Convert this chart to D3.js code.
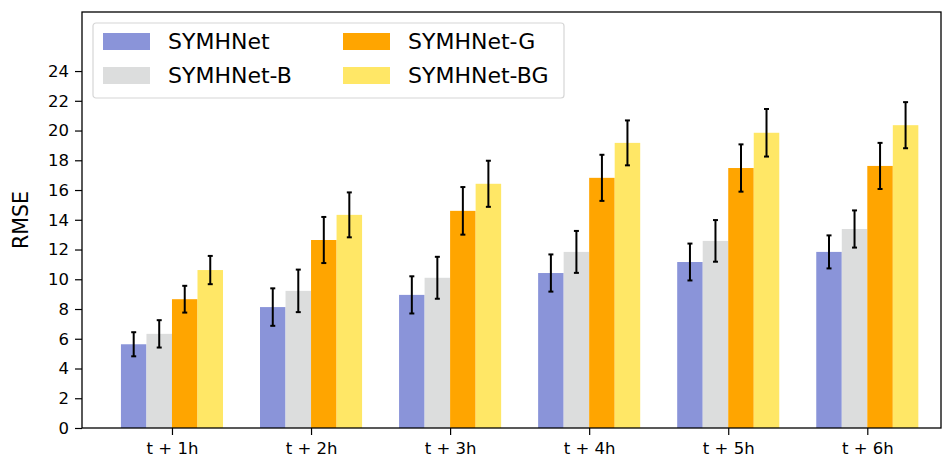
<!DOCTYPE html>
<html>
<head>
<meta charset="utf-8">
<script src="https://cdn.jsdelivr.net/npm/d3@7"></script>
<style>
    body { margin: 0; background: #fff; }
    svg { font-family: "DejaVu Sans", sans-serif; }
</style>
</head>
<body>
<svg id="chart"></svg>
<script>
// Data
const horizons = ['t + 1h', 't + 2h', 't + 3h', 't + 4h', 't + 5h', 't + 6h'];
const models = ['SYMHNet', 'SYMHNet-B', 'SYMHNet-G', 'SYMHNet-BG'];
const colors = ['#8a94d9', '#dcdddd', '#ffa500', '#ffe766'];

const rmse = [
    [5.63, 8.13, 8.95, 10.42, 11.16, 11.84],   // SYMHNet
    [6.33, 9.22, 10.10, 11.84, 12.58, 13.38],  // SYMHNet-B
    [8.66, 12.64, 14.60, 16.82, 17.48, 17.62], // SYMHNet-G
    [10.62, 14.33, 16.42, 19.17, 19.85, 20.36] // SYMHNet-BG
];
const rmseErr = [
    [0.81, 1.26, 1.25, 1.25, 1.24, 1.11],
    [0.92, 1.43, 1.41, 1.41, 1.40, 1.25],
    [0.90, 1.55, 1.60, 1.55, 1.59, 1.55],
    [0.95, 1.51, 1.55, 1.51, 1.60, 1.55]
];
const yTicks = d3.range(0, 25, 2);

// Layout
const config = {
    width: 944,
    height: 460,
    margin: { top: 12, right: 3, bottom: 32, left: 82 },
    barWidth: 0.1835,
    tickFont: 16.5
};

const svg = d3.select('#chart')
    .attr('width', config.width)
    .attr('height', config.height);

const innerW = config.width - config.margin.left - config.margin.right;
const innerH = config.height - config.margin.top - config.margin.bottom;

const g = svg.append('g')
    .attr('transform', `translate(${config.margin.left},${config.margin.top})`);

const x = d3.scaleLinear().domain([-0.647, 5.53]).range([0, innerW]);
const y = d3.scaleLinear().domain([0, 27.97]).range([innerH, 0]);

// Bars
models.forEach((m, mi) => {
    const offset = (mi - 2) * config.barWidth;
    g.append('g').attr('class', 'series')
        .selectAll('rect')
        .data(rmse[mi])
        .enter()
        .append('rect')
        .attr('x', (d, i) => x(i + offset))
        .attr('width', x(config.barWidth) - x(0))
        .attr('y', d => y(d))
        .attr('height', d => y(0) - y(d))
        .attr('fill', colors[mi]);
});

// Error bars
models.forEach((m, mi) => {
    const offset = (mi - 1.5) * config.barWidth;
    const eg = g.append('g').attr('class', 'errors');
    rmse[mi].forEach((v, i) => {
        const cx = x(i + offset);
        const top = y(v + rmseErr[mi][i]);
        const bot = y(v - rmseErr[mi][i]);
        eg.append('line')
            .attr('x1', cx).attr('x2', cx)
            .attr('y1', top).attr('y2', bot)
            .attr('stroke', '#000').attr('stroke-width', 2);
        [top, bot].forEach(cy => {
            eg.append('line')
                .attr('x1', cx - 2.5).attr('x2', cx + 2.5)
                .attr('y1', cy).attr('y2', cy)
                .attr('stroke', '#000').attr('stroke-width', 2);
        });
    });
});

// Axes
const yAxis = g.append('g')
    .call(d3.axisLeft(y).tickValues(yTicks).tickSize(7).tickPadding(6));
const xAxis = g.append('g')
    .attr('transform', `translate(0,${innerH})`)
    .call(d3.axisBottom(x).tickValues(d3.range(horizons.length))
        .tickFormat(i => horizons[i]).tickSize(7).tickPadding(7));

[yAxis, xAxis].forEach(a => {
    a.attr('font-family', '"DejaVu Sans", sans-serif').attr('font-size', config.tickFont);
    a.select('.domain').remove();
    a.selectAll('.tick line').attr('stroke', '#000').attr('stroke-width', 1.2);
    a.selectAll('text').attr('fill', '#000');
});

// Frame
g.append('rect')
    .attr('width', innerW).attr('height', innerH)
    .attr('fill', 'none').attr('stroke', '#000').attr('stroke-width', 1.3);

// Y label
svg.append('text')
    .attr('transform', `translate(28,${config.margin.top + innerH / 2}) rotate(-90)`)
    .attr('text-anchor', 'middle')
    .attr('font-size', 20.5)
    .text('RMSE');

// Legend
const legend = svg.append('g').attr('transform', 'translate(93,23)');
legend.append('rect')
    .attr('width', 471).attr('height', 75).attr('rx', 3)
    .attr('fill', '#fff').attr('fill-opacity', 0.8)
    .attr('stroke', '#d6d6d6').attr('stroke-width', 1.2);

models.forEach((m, mi) => {
    const col = Math.floor(mi / 2), row = mi % 2;
    const item = legend.append('g')
        .attr('transform', `translate(${10 + col * 240},${10 + row * 34})`);
    item.append('rect')
        .attr('width', 47).attr('height', 17)
        .attr('fill', colors[mi]);
    item.append('text')
        .attr('x', 65).attr('y', 8.5)
        .attr('dominant-baseline', 'central')
        .attr('font-size', 22)
        .text(m);
});
</script>
</body>
</html>
